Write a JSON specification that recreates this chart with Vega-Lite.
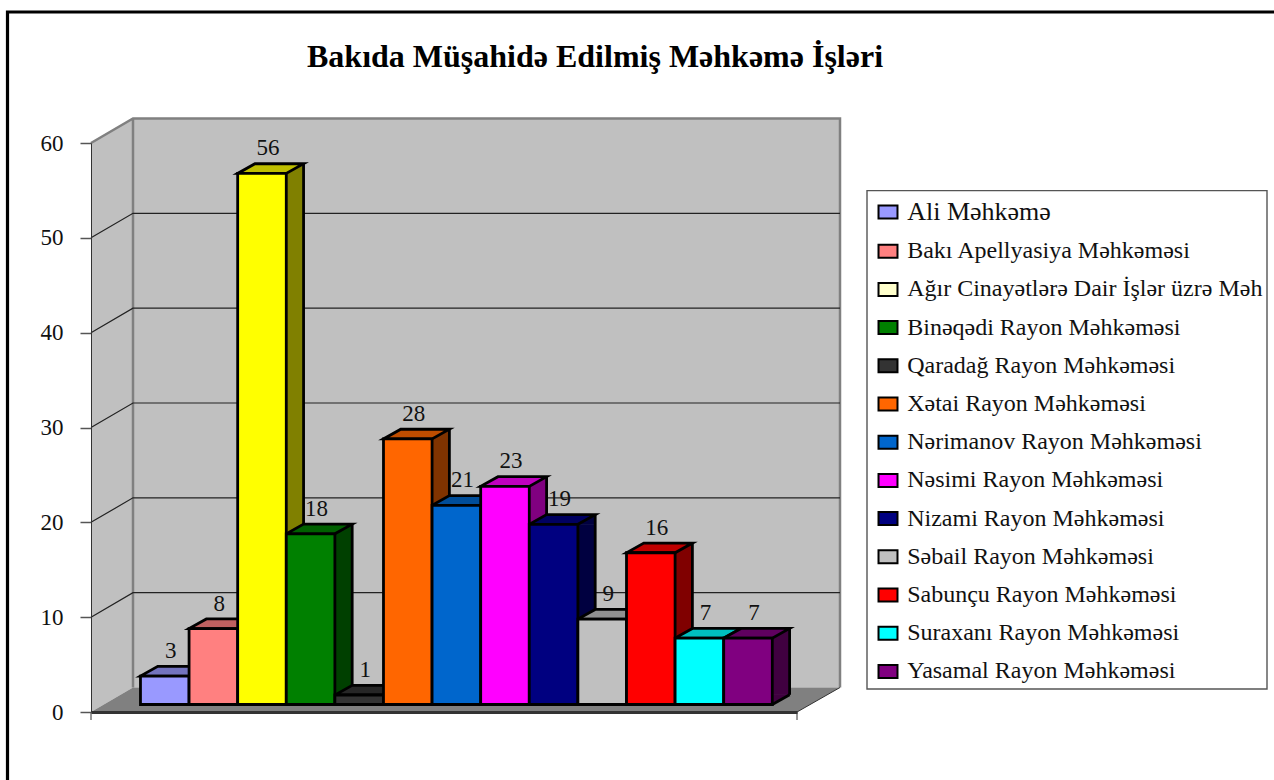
{"$schema":"https://vega.github.io/schema/vega-lite/v6.json","width":706,"height":569,"autosize":{"type":"none"},"padding":{"left":91,"top":143,"right":477,"bottom":68},"background":"white",
"title":{"text":"Bakıda Müşahidə Edilmiş Məhkəmə İşləri","font":"Liberation Serif","fontSize":32,"fontWeight":"bold","color":"#000000","anchor":"middle","dx":151,"offset":0,"dy":68},
"config":{"view":{"stroke":null}},
"data":{"values":[{"court":"Ali Məhkəmə","value":3},{"court":"Bakı Apellyasiya Məhkəməsi","value":8},{"court":"Ağır Cinayətlərə Dair İşlər üzrə Məh","value":56},{"court":"Binəqədi Rayon Məhkəməsi","value":18},{"court":"Qaradağ Rayon Məhkəməsi","value":1},{"court":"Xətai Rayon Məhkəməsi","value":28},{"court":"Nərimanov Rayon Məhkəməsi","value":21},{"court":"Nəsimi Rayon Məhkəməsi","value":23},{"court":"Nizami Rayon Məhkəməsi","value":19},{"court":"Səbail Rayon Məhkəməsi","value":9},{"court":"Sabunçu Rayon Məhkəməsi","value":16},{"court":"Suraxanı Rayon Məhkəməsi","value":7},{"court":"Yasamal Rayon Məhkəməsi","value":7}]},
"encoding":{"x":{"field":"court","type":"nominal","sort":null,"title":null,"scale":{"paddingInner":0,"paddingOuter":0.763,"align":0.667},"axis":{"labels":false,"ticks":false,"domain":true,"domainColor":"#333333","domainWidth":3,"title":null,"grid":false,"zindex":1}},
"y":{"field":"value","type":"quantitative","stack":null,"title":null,"scale":{"domain":[0,60],"nice":false},"axis":{"values":[0,10,20,30,40,50,60],"grid":false,"domainColor":"#333333","domainWidth":1,"tickColor":"#555555","tickWidth":1.5,"tickSize":11,"labelPadding":17,"labelFont":"Liberation Serif","labelFontSize":23,"labelColor":"#111111","title":null,"zindex":1}}},
"resolve":{"scale":{"color":"independent"}},
"layer":[
{"mark":{"type":"point","filled":true,"opacity":1,"size":4,"fill":"#C0C0C0","strokeWidth":0,"shape":"M0 0L42 -24.5H749V-593.5H42L0 -569Z"},"encoding":{"x":{"value":0}},"data":{"values":[{"value":0}]}},
{"mark":{"type":"point","filled":true,"opacity":1,"size":4,"fill":"#808080","strokeWidth":0,"shape":"M0 0L42 -24.5H749L706 0Z"},"encoding":{"x":{"value":0}},"data":{"values":[{"value":0}]}},
{"mark":{"type":"point","filled":false,"opacity":1,"size":4,"fill":"none","stroke":"#808080","strokeWidth":2.5,"shape":"M0 -569L42 -593.5H749V-24.5M42 -593.5V-24.5"},"encoding":{"x":{"value":0}},"data":{"values":[{"value":0}]}},
{"mark":{"type":"point","filled":false,"opacity":1,"size":4,"fill":"none","stroke":"#333333","strokeWidth":1,"shape":"M0 0V8M706 8V0L749 -24.5"},"encoding":{"x":{"value":0}},"data":{"values":[{"value":0}]}},
{"mark":{"type":"point","filled":false,"opacity":1,"size":4,"fill":"none","stroke":"#000000","strokeWidth":3.2,"shape":"M-83.5 68V-700H1183"},"encoding":{"x":{"value":0}},"data":{"values":[{"value":0}]}},
{"mark":{"type":"point","filled":false,"opacity":1,"size":4,"fill":"none","stroke":"#555555","strokeWidth":1.4,"shape":"M776 -521.4H1176V-23H776Z"},"encoding":{"x":{"value":0}},"data":{"values":[{"value":0}]}},
{"mark":{"type":"point","filled":false,"opacity":1,"size":4,"fill":"none","stroke":"#222222","strokeWidth":1.2,"shape":"M0 0L42 -24.5H749"},"encoding":{"x":{"value":0}},"data":{"values":[{"value":10},{"value":20},{"value":30},{"value":40},{"value":50}]}},
{"mark":{"type":"bar","width":17.3,"xOffset":32.95,"yOffset":-7.5,"y2Offset":-17.2},"encoding":{"y2":{"datum":0},"color":{"field":"court","type":"nominal","sort":null,"legend":null,"scale":{"range":["#4D4D80","#804040","#808000","#004000","#1A1A1A","#803300","#003366","#800080","#000040","#606060","#800000","#008080","#400040"]}}}},
{"mark":{"type":"point","filled":true,"opacity":1,"size":4,"strokeWidth":0,"yOffset":-7.5,"shape":"M24.3 0L41.6 -9.7V0.5H24.3Z"},"encoding":{"color":{"field":"court","type":"nominal","sort":null,"legend":null,"scale":{"range":["#4D4D80","#804040","#808000","#004000","#1A1A1A","#803300","#003366","#800080","#000040","#606060","#800000","#008080","#400040"]}}}},
{"mark":{"type":"point","filled":true,"opacity":1,"size":4,"strokeWidth":0,"yOffset":-7.5,"shape":"M24.3 -10.2H41.6V-9.7L24.3 0Z"},"encoding":{"y":{"datum":0},"color":{"field":"court","type":"nominal","sort":null,"legend":null,"scale":{"range":["#4D4D80","#804040","#808000","#004000","#1A1A1A","#803300","#003366","#800080","#000040","#606060","#800000","#008080","#400040"]}}}},
{"mark":{"type":"point","filled":false,"opacity":1,"size":4,"fill":"none","stroke":"#000000","strokeWidth":2.8,"yOffset":-7.5,"shape":"M24.3 0L41.6 -9.7"},"encoding":{"y":{"datum":0}}},
{"mark":{"type":"rule","color":"#000000","strokeWidth":2.8,"xOffset":41.6,"yOffset":-17.2,"y2Offset":-17.2},"encoding":{"y2":{"datum":0}}},
{"mark":{"type":"point","filled":true,"opacity":1,"size":4,"stroke":"#000000","strokeWidth":2.8,"yOffset":-7.5,"shape":"M-24.3 0H24.3L41.6 -9.7H-7L-24.3 0Z"},"encoding":{"color":{"field":"court","type":"nominal","sort":null,"legend":null,"scale":{"range":["#7373BF","#BF6060","#BFBF00","#006000","#262626","#BF4D00","#004D99","#BF00BF","#000060","#909090","#BF0000","#00BFBF","#600060"]}}}},
{"mark":{"type":"bar","yOffset":-7.5,"y2Offset":-7.5},"encoding":{"y2":{"datum":0},"color":{"field":"court","type":"nominal","sort":null,"title":null,"scale":{"range":["#9999FF","#FF8080","#FFFFCC","#008000","#333333","#FF6600","#0066CC","#FF00FF","#000080","#C0C0C0","#FF0000","#00FFFF","#800080"]},"legend":{"orient":"none","legendX":785,"legendY":57,"padding":0,"title":null,"symbolType":"M-1.46 -1H1.46V1H-1.46Z","symbolSize":169,"symbolOffset":0,"symbolStrokeColor":"#000000","symbolStrokeWidth":2,"labelFont":"Liberation Serif","labelFontSize":24,"labelColor":"#111111","labelLimit":500,"labelOffset":7.2,"rowPadding":14.2,"encode":{"labels":{"update":{"fontSize":{"signal":"datum.value==='Ali Məhkəmə'?26:24"}}}}}}}},
{"mark":{"type":"bar","stroke":"#000000","strokeWidth":2.8,"yOffset":-7.5,"y2Offset":-7.5},"encoding":{"y2":{"datum":0},"color":{"field":"court","type":"nominal","sort":null,"legend":null,"scale":{"range":["#9999FF","#FF8080","#FFFF00","#008000","#333333","#FF6600","#0066CC","#FF00FF","#000080","#C0C0C0","#FF0000","#00FFFF","#800080"]}}}},
{"mark":{"type":"text","font":"Liberation Serif","fontSize":23,"color":"#111111","align":"center","baseline":"alphabetic","dx":6,"dy":-18,"yOffset":-7.5},"encoding":{"text":{"field":"value","type":"quantitative"}}}
]}
